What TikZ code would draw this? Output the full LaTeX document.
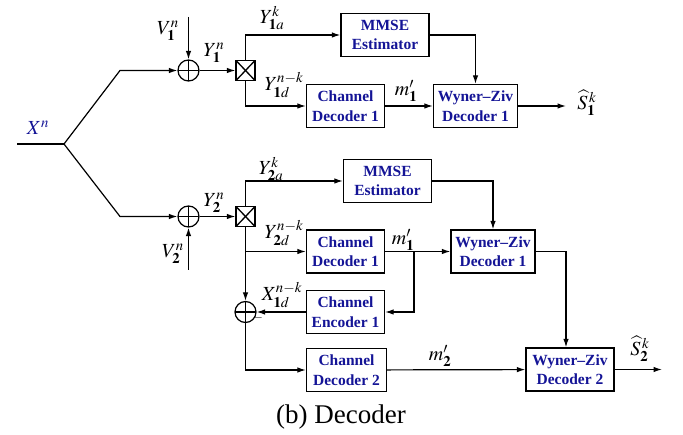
\documentclass[tikz,border=0pt]{standalone}
\usepackage{mathptmx}
\usepackage{fontspec}
\setmainfont{Liberation Serif}
\usetikzlibrary{arrows.meta}
\definecolor{boxblue}{RGB}{20,20,150}
\begin{document}
\begin{tikzpicture}[x=1pt,y=-1pt,
  >={Latex[length=8.5pt,width=5.5pt]},
  line width=1.2pt,
  blk/.style={draw, line width=1.3pt, text=boxblue, font=\fontsize{15.5}{19.5}\selectfont\bfseries, align=center, minimum height=43pt, inner sep=1pt},
  lab/.style={font=\fontsize{20}{23}\selectfont, inner sep=0pt},
  adder/.style={circle, draw, minimum size=21pt, inner sep=0pt, path picture={\draw (path picture bounding box.north) -- (path picture bounding box.south) (path picture bounding box.west) -- (path picture bounding box.east);}},
  switchbox/.style={rectangle, draw, line width=1.3pt, minimum width=19pt, minimum height=20pt, inner sep=0pt, path picture={\draw (path picture bounding box.north west) -- (path picture bounding box.south east) (path picture bounding box.north east) -- (path picture bounding box.south west);}}
]
\useasboundingbox (0,0) rectangle (683,435);

% blocks
\node[switchbox] (sw1) at (245.5,70.5) {};
\node[adder] (add1) at (188.5,70.5) {};
\node[blk, minimum width=88pt] (mmse1) at (385,35) {MMSE\\Estimator};
\node[blk, minimum width=78pt] (cd1) at (345.5,106) {Channel\\Decoder 1};
\node[blk, minimum width=84pt] (wz1) at (475.5,106) {Wyner--Ziv\\Decoder 1};
\node[blk, minimum width=88pt] (mmse2) at (387.5,181) {MMSE\\Estimator};
\node[switchbox] (sw2) at (245.5,216.5) {};
\node[adder] (add2) at (188.5,216.5) {};
\node[blk, minimum width=78pt] (cd1b) at (345.5,251.5) {Channel\\Decoder 1};
\node[blk, minimum width=84pt] (wz1b) at (493,251.5) {Wyner--Ziv\\Decoder 1};
\node[blk, minimum width=78pt] (ce1) at (345.5,312) {Channel\\Encoder 1};
\node[adder] (add3) at (245.5,312) {};
\node[blk, minimum width=80pt] (cd2) at (346.5,370) {Channel\\Decoder 2};
\node[blk, minimum width=88pt] (wz2) at (570,369.5) {Wyner--Ziv\\Decoder 2};

% coordinates
\coordinate (xin) at (17,144);
\coordinate (split) at (64,144);
\coordinate (up) at (120,70.5);
\coordinate (dn) at (120,216.5);
\coordinate (v1) at (188.5,17);
\coordinate (v2) at (188.5,270);
\coordinate (o1) at (566,106);
\coordinate (o2) at (662,369.5);
\coordinate (br) at (414,251.5);

% labels
\node[lab, text=boxblue] (lx) at (38,128) {$X^{n}$};
\node[lab] (lv1) at (168,31) {$V_{\mathbf{1}}^{n}$};
\node[lab] (ly1) at (214,53) {$Y_{\mathbf{1}}^{n}$};
\node[lab] (ly1a) at (272,18) {$Y_{\mathbf{1}a}^{k}$};
\node[lab] (ly1d) at (284,85) {$Y_{\mathbf{1}d}^{n-k}$};
\node[lab] (lm1) at (406,91) {$m'_{\mathbf{1}}$};
\node[lab] (ls1) at (587,103) {$\widehat{S}_{\mathbf{1}}^{\,k}$};
\node[lab] (ly2a) at (271,169) {$Y_{\mathbf{2}a}^{k}$};
\node[lab] (ly2) at (214,203) {$Y_{\mathbf{2}}^{n}$};
\node[lab] (lv2) at (173,254) {$V_{\mathbf{2}}^{n}$};
\node[lab] (ly2d) at (284,233) {$Y_{\mathbf{2}d}^{n-k}$};
\node[lab] (lx1d) at (282,295) {$X_{\mathbf{1}d}^{n-k}$};
\node[font=\fontsize{13}{14}\selectfont\bfseries, inner sep=0pt] (lminus) at (258,318) {$-$};
\node[lab] (lm1b) at (403,240) {$m'_{\mathbf{1}}$};
\node[lab] (lm2) at (440,356) {$m'_{\mathbf{2}}$};
\node[lab] (ls2) at (640,349) {$\widehat{S}_{\mathbf{2}}^{\,k}$};
\node[font=\fontsize{27}{30}\selectfont, inner sep=0pt] (cap) at (341,417) {(b) Decoder};

% connectors, upper branch
\draw (xin) -- (split);
\draw[->] (split) -- (up) -- (add1);
\draw[->] (v1) -- (add1);
\draw[->] (add1) -- (sw1);
\draw[->] (sw1.north) |- (mmse1.west);
\draw[->] (sw1.south) |- (cd1.west);
\draw[->] (cd1) -- (wz1);
\draw[->] (mmse1.east) -| (wz1.north);
\draw[->] (wz1) -- (o1);

% lower branch
\draw[->] (split) -- (dn) -- (add2);
\draw[->] (v2) -- (add2);
\draw[->] (add2) -- (sw2);
\draw[->] (sw2.north) |- (mmse2.west);
\draw[->] (sw2.south) -- (add3.north);
\draw[->] (sw2.south |- cd1b.west) -- (cd1b.west);
\draw[->] (ce1) -- (add3);
\draw[->] (add3.south) |- (cd2.west);
\draw[->] (cd1b) -- (wz1b);
\draw[->] (br) |- (ce1.east);
\draw[->] (mmse2.east) -| (wz1b.north);
\draw[->] (wz1b.east) -| ([xshift=-4pt]wz2.north);
\draw[->] (cd2) -- (wz2);
\draw[->] (wz2) -- (o2);
\end{tikzpicture}
\end{document}
